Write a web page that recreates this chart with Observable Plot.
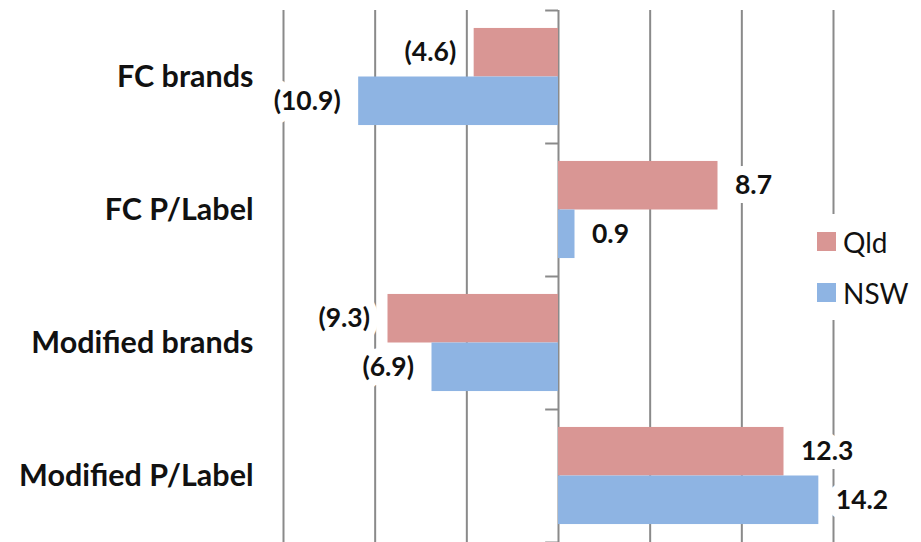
<!DOCTYPE html>
<html><head><meta charset="utf-8">
<script src="https://cdn.jsdelivr.net/npm/d3@7"></script>
<script src="https://cdn.jsdelivr.net/npm/@observablehq/plot@0.6"></script>
<style>
html,body{margin:0;padding:0;background:#fff;}
#chart{position:relative;width:921px;height:542px;}
#legend{position:absolute;left:813px;top:214px;background:#fff;padding:2px 8px 2px 4px;font-family:Lato,"Open Sans",sans-serif;font-size:28px;color:#111;}
#legend .item{display:flex;align-items:center;height:51px;}
#legend .sw{width:19px;height:19px;margin-right:7px;flex:none;}
</style></head>
<body><div id="chart"></div>
<script>
const categories = ["FC brands", "FC P/Label", "Modified brands", "Modified P/Label"];
const series = ["Qld", "NSW"];
const qld = [-4.6, 8.7, -9.3, 12.3];
const nsw = [-10.9, 0.9, -6.9, 14.2];
const colors = ["#D99694", "#8EB4E3"];
const gridTicks = [-15, -10, -5, 0, 5, 10, 15];

const values = [qld, nsw];
const rows = categories.flatMap((c, i) => series.map((s, k) => ({category: c, index: i, series: s, k, value: values[k][i]})));

const pad = 0.135, slot = (1 - 2 * pad) / series.length;
const y1 = d => d.index + pad + d.k * slot;
const y2 = d => d.index + pad + (d.k + 1) * slot;
const yc = d => d.index + pad + (d.k + 0.5) * slot;
const fmt = d => d.value < 0 ? `(${Math.abs(d.value).toFixed(1)})` : d.value.toFixed(1);
const font = "Lato, 'Open Sans', sans-serif";

const chart = Plot.plot({
  width: 921, height: 542,
  marginLeft: 283, marginRight: 88, marginTop: 10, marginBottom: 0,
  style: {fontFamily: font, background: "#fff"},
  x: {domain: [-15, 15], axis: null},
  y: {domain: [0, categories.length], reverse: true, axis: null},
  color: {domain: series, range: colors},
  marks: [
    Plot.ruleX(gridTicks, {stroke: "#8a8a8a", strokeWidth: 2}),
    Plot.ruleY(d3.range(categories.length + 1), {x1: -0.7, x2: 0, stroke: "#8a8a8a", strokeWidth: 2}),
    Plot.rect(rows, {x1: 0, x2: "value", y1, y2, fill: "series"}),
    Plot.text(rows.filter(d => d.value < 0), {x: "value", y: yc, text: fmt, textAnchor: "end", dx: -18,
      fontSize: 26.5, fontWeight: "bold", fill: "#111", stroke: "#fff", strokeWidth: 18}),
    Plot.text(rows.filter(d => d.value >= 0), {x: "value", y: yc, text: fmt, textAnchor: "start", dx: 17,
      fontSize: 26.5, fontWeight: "bold", fill: "#111", stroke: "#fff", strokeWidth: 18}),
    Plot.text(categories, {frameAnchor: "left", y: (d, i) => i + 0.5, text: d => d, textAnchor: "end", dx: -30,
      fontSize: 30.5, fontWeight: "bold", fill: "#111"})
  ]
});
const host = document.getElementById("chart");
host.appendChild(chart);

const legend = document.createElement("div");
legend.id = "legend";
series.forEach((s, k) => {
  const item = document.createElement("div");
  item.className = "item";
  const sw = document.createElement("span");
  sw.className = "sw";
  sw.style.background = colors[k];
  const t = document.createElement("span");
  t.textContent = s;
  item.appendChild(sw); item.appendChild(t);
  legend.appendChild(item);
});
host.appendChild(legend);
</script>
</body></html>
